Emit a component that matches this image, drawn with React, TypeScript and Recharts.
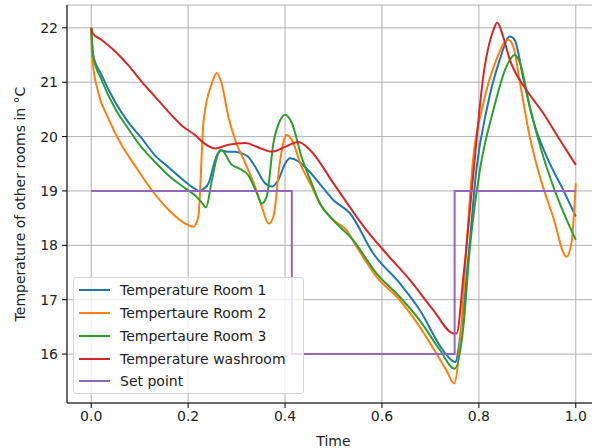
import { LineChart, Line, XAxis, YAxis, CartesianGrid } from 'recharts';

// Room 1
const room1Time = [0, 0.004, 0.021, 0.049, 0.076, 0.104, 0.131, 0.159, 0.186, 0.214, 0.224, 0.232, 0.242, 0.256, 0.266, 0.282, 0.297, 0.311, 0.324, 0.338, 0.359, 0.373, 0.386, 0.4, 0.41, 0.427, 0.448, 0.47, 0.5, 0.534, 0.582, 0.637, 0.678, 0.726, 0.751, 0.764, 0.781, 0.795, 0.816, 0.843, 0.864, 0.874, 0.891, 0.912, 0.94, 0.974, 1.0];
const room1Temp = [22.0, 21.5, 21.14, 20.64, 20.27, 19.97, 19.66, 19.44, 19.23, 19.04, 19.0, 19.04, 19.14, 19.57, 19.75, 19.72, 19.72, 19.69, 19.63, 19.45, 19.14, 19.08, 19.2, 19.5, 19.6, 19.55, 19.38, 19.15, 18.83, 18.59, 17.85, 17.3, 16.81, 16.07, 15.85, 16.5, 18.04, 19.4, 20.49, 21.41, 21.84, 21.78, 21.1, 20.3, 19.63, 19.02, 18.53];

// Room 2
const room2Time = [0, 0.002, 0.014, 0.035, 0.063, 0.09, 0.118, 0.16, 0.194, 0.211, 0.221, 0.232, 0.249, 0.259, 0.269, 0.283, 0.297, 0.318, 0.338, 0.352, 0.366, 0.376, 0.39, 0.403, 0.414, 0.434, 0.455, 0.472, 0.5, 0.527, 0.548, 0.589, 0.637, 0.678, 0.713, 0.733, 0.749, 0.761, 0.775, 0.788, 0.809, 0.836, 0.86, 0.871, 0.885, 0.905, 0.926, 0.953, 0.981, 0.991, 1.0];
const room2Temp = [22.0, 21.45, 20.83, 20.34, 19.84, 19.47, 19.1, 18.65, 18.4, 18.34, 18.53, 20.3, 20.98, 21.17, 20.98, 20.37, 19.94, 19.51, 19.08, 18.71, 18.4, 18.53, 19.57, 20.03, 19.94, 19.45, 19.08, 18.77, 18.46, 18.28, 17.97, 17.42, 16.99, 16.5, 16.0, 15.7, 15.46, 16.19, 18.04, 19.57, 20.6, 21.41, 21.78, 21.66, 20.98, 20.0, 19.26, 18.53, 17.79, 18.04, 19.14];

// Room 3
const room3Time = [0, 0.004, 0.021, 0.049, 0.076, 0.104, 0.131, 0.159, 0.186, 0.214, 0.227, 0.237, 0.249, 0.262, 0.269, 0.29, 0.304, 0.324, 0.342, 0.352, 0.362, 0.376, 0.39, 0.4, 0.414, 0.434, 0.455, 0.472, 0.5, 0.54, 0.589, 0.637, 0.678, 0.72, 0.75, 0.768, 0.781, 0.802, 0.83, 0.857, 0.874, 0.885, 0.905, 0.933, 0.967, 1.0];
const room3Temp = [22.0, 21.48, 21.05, 20.52, 20.15, 19.8, 19.54, 19.29, 19.1, 18.92, 18.8, 18.7, 19.2, 19.69, 19.75, 19.48, 19.42, 19.29, 18.96, 18.77, 18.89, 19.88, 20.3, 20.4, 20.25, 19.63, 19.14, 18.77, 18.46, 18.1, 17.48, 17.05, 16.62, 16.07, 15.73, 16.5, 17.91, 19.38, 20.49, 21.29, 21.5, 21.35, 20.55, 19.63, 18.77, 18.1];

// Washroom
const washroomTime = [0, 0.003, 0.021, 0.049, 0.076, 0.104, 0.131, 0.159, 0.186, 0.214, 0.234, 0.256, 0.283, 0.318, 0.345, 0.373, 0.4, 0.427, 0.452, 0.5, 0.568, 0.609, 0.658, 0.706, 0.748, 0.754, 0.768, 0.788, 0.809, 0.83, 0.838, 0.85, 0.864, 0.898, 0.933, 0.967, 1.0];
const washroomTemp = [22.0, 21.9, 21.78, 21.57, 21.32, 21.01, 20.74, 20.46, 20.21, 20.03, 19.87, 19.78, 19.85, 19.88, 19.8, 19.72, 19.81, 19.9, 19.75, 19.14, 18.28, 17.85, 17.36, 16.81, 16.38, 16.38, 17.42, 19.26, 21.1, 21.96, 22.1, 21.84, 21.41, 20.86, 20.43, 19.94, 19.48];

// Set point
const setPointTime = [0, 0.414, 0.414, 0.75, 0.75, 1.0];
const setPointTemp = [19, 19, 16, 16, 19, 19];

const xTicks = [0, 0.2, 0.4, 0.6, 0.8, 1.0];
const yTicks = [16, 17, 18, 19, 20, 21, 22];

const toRows = (t: number[], v: number[]) => t.map((x, i) => ({ t: x, v: v[i] }));

const series = [
  { name: 'Temperature Room 1', color: '#1f77b4', rows: toRows(room1Time, room1Temp), curve: 'monotone' },
  { name: 'Tempertaure Room 2', color: '#ff7f0e', rows: toRows(room2Time, room2Temp), curve: 'monotone' },
  { name: 'Tempertaure Room 3', color: '#2ca02c', rows: toRows(room3Time, room3Temp), curve: 'monotone' },
  { name: 'Temperature washroom', color: '#d62728', rows: toRows(washroomTime, washroomTemp), curve: 'monotone' },
  { name: 'Set point', color: '#9467bd', rows: toRows(setPointTime, setPointTemp), curve: 'linear' },
];

const font = "'DejaVu Sans', sans-serif";
const tickStyle = { fontSize: 14, fill: '#222', fontFamily: font };

export default function App() {
  return (
    <div
      style={{
        position: 'fixed',
        left: 0,
        top: 0,
        width: 592,
        height: 448,
        overflow: 'hidden',
        background: '#fff',
        fontFamily: font,
      }}
    >
      <LineChart width={610} height={448} margin={{ top: 5, right: 10, bottom: 0, left: 0 }}>
        <CartesianGrid stroke="#b0b0b0" strokeWidth={1} />
        <XAxis
          dataKey="t"
          type="number"
          domain={[-0.05, 1.05]}
          ticks={xTicks}
          tickFormatter={(v: number) => v.toFixed(1)}
          height={45}
          stroke="#000"
          tick={tickStyle}
          tickSize={5}
          tickMargin={3}
          allowDuplicatedCategory={false}
          label={{ value: 'Time', position: 'insideBottom', offset: 2, style: { fontSize: 14, fill: '#222', fontFamily: font } }}
        />
        <XAxis
          xAxisId="top"
          orientation="top"
          type="number"
          domain={[-0.05, 1.05]}
          height={0}
          tick={false}
          tickLine={false}
          stroke="#000"
        />
        <YAxis
          type="number"
          domain={[15.1, 22.42]}
          ticks={yTicks}
          width={67}
          stroke="#000"
          tick={tickStyle}
          tickSize={5}
          tickMargin={4}
          label={{
            value: 'Temperature of other rooms in °C',
            angle: -90,
            position: 'insideLeft',
            offset: 20,
            style: { fontSize: 14, fill: '#222', fontFamily: font, textAnchor: 'middle' },
          }}
        />
        {series.map((s) => (
          <Line
            key={s.name}
            data={s.rows}
            dataKey="v"
            name={s.name}
            type={s.curve as any}
            stroke={s.color}
            strokeWidth={2}
            dot={false}
            activeDot={false}
            isAnimationActive={false}
          />
        ))}
      </LineChart>
      <div
        style={{
          position: 'absolute',
          left: 73,
          top: 277,
          width: 231,
          height: 117,
          border: '1px solid #d5d5d5',
          borderRadius: 3,
          background: 'rgba(255,255,255,0.8)',
          paddingTop: 1,
          boxSizing: 'border-box',
        }}
      >
        {series.map((s) => (
          <div key={s.name} style={{ height: 22.75, display: 'flex', alignItems: 'center' }}>
            <svg width={46} height={10} style={{ flexShrink: 0 }}>
              <line x1={5} y1={5} x2={36} y2={5} stroke={s.color} strokeWidth={2} />
            </svg>
            <span style={{ fontSize: 14, color: '#222', whiteSpace: 'nowrap' }}>{s.name}</span>
          </div>
        ))}
      </div>
    </div>
  );
}
